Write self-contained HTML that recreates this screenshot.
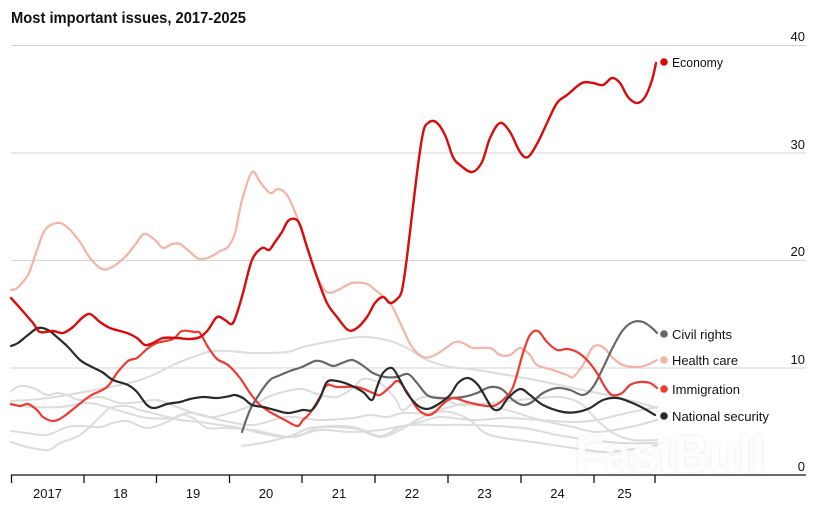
<!DOCTYPE html>
<html>
<head>
<meta charset="utf-8">
<style>
html,body{margin:0;padding:0;background:#fff;}
body{width:818px;height:514px;overflow:hidden;}
svg{display:block;font-family:"Liberation Sans",Arial,sans-serif;}
</style>
</head>
<body>
<svg id="chart" width="818" height="514" viewBox="0 0 818 514" xmlns="http://www.w3.org/2000/svg">
  <defs>
    <filter id="wmblur" x="-10%" y="-30%" width="120%" height="160%">
      <feGaussianBlur stdDeviation="2"/>
    </filter>
  </defs>
  <rect width="818" height="514" fill="#fff"/>
  <!-- title -->
  <text x="11" y="23" font-size="15.5" font-weight="bold" fill="#111" textLength="235" lengthAdjust="spacingAndGlyphs">Most important issues, 2017-2025</text>

  <!-- gridlines -->
  <g stroke="#d4d4d4" stroke-width="1">
    <line x1="11" y1="45.5" x2="806" y2="45.5"/>
    <line x1="11" y1="153" x2="806" y2="153"/>
    <line x1="11" y1="260.5" x2="806" y2="260.5"/>
    <line x1="11" y1="368" x2="806" y2="368"/>
  </g>
  <!-- y labels -->
  <g font-size="13" fill="#111" text-anchor="end">
    <text x="805" y="41">40</text>
    <text x="805" y="149">30</text>
    <text x="805" y="256">20</text>
    <text x="805" y="364">10</text>
    <text x="805" y="471">0</text>
  </g>

  <!-- light grey lines -->
  <g fill="none" stroke="#dcdcdc" stroke-width="2" stroke-linejoin="round" stroke-linecap="round">
    <polyline class="s" points="11,401 40,399 67,395 100,389 133,382 153,375 173,365 193,357 213,351 240,352 253,353 287,352 303,347 327,342 360,337 387,340 407,348 427,360 450,367 470,369 507,375 540,381 573,388 607,395 640,403 657,408"/>
    <polyline class="s" points="11,391 20,386 33,388 47,395 57,393 67,395 80,400 100,397 120,403 140,402 157,400 177,407 200,415 213,417 230,413 240,410 257,403 273,395 300,389 320,395 337,397 353,388 363,379 380,383 395,398 403,410 420,398 440,397 460,405 490,403 540,398 560,397 580,403 597,420 613,433 633,440 657,440"/>
    <polyline class="s" points="11,405 33,407 60,407 87,403 107,407 127,413 147,418 173,418 187,413 203,415 220,420 253,425 287,417 320,420 353,418 370,415 387,417 403,413 427,413 450,407 473,403 507,410 540,420 573,427 597,432 630,427 657,420"/>
    <polyline class="s" points="11,431 27,433 47,435 67,427 80,426 100,427 113,423 127,421 147,428 167,422 180,415 193,418 207,428 227,428 253,430 293,437 320,427 353,427 380,436 400,427 420,422 440,417 473,420 507,418 540,420 573,422 597,420 627,413 657,407"/>
    <polyline class="s" points="11,442 27,447 48,450 60,443 80,435 100,417 110,408 127,406 140,410 160,415 180,420 200,422 220,425 240,428 260,433 290,437 320,430 350,432 380,430 410,425 440,425 473,425 523,428 557,435 590,440 623,443 657,443"/>
    <polyline class="s" points="242,446 267,442 293,435 310,428 333,427 357,429 380,437 400,430 417,420 433,413 450,412 470,420 490,435 540,443 573,448 607,452 640,448 657,445"/>
  </g>

  <!-- health care -->
  <polyline class="s" fill="none" stroke="#f5b3a6" stroke-width="2.2" stroke-linejoin="round" stroke-linecap="round"
    points="11,290 17,288 28,275 37,250 45,230 57,223 67,227 80,242 90,258 102,269 112,267 125,257 135,245 144,234 155,240 163,248 172,244 180,244 190,252 199,259 210,257 220,251 228,247 235,233 242,200 252,172 260,182 270,193 278,189 287,195 297,217 307,247 317,277 327,292 338,290 352,283 367,284 375,290 390,303 402,327 412,347 423,357 433,356 443,350 455,342 463,343 473,348 490,348 500,355 510,355 520,348 530,355 537,365 553,370 567,375 573,377 583,365 593,347 603,347 613,358 623,365 637,367 647,365 657,360"/>

  <!-- civil rights -->
  <polyline class="s" fill="none" stroke="#676767" stroke-width="2.2" stroke-linejoin="round" stroke-linecap="round"
    points="242,432 250,410 260,393 270,380 278,376 290,371 302,367 315,361 323,362 333,366 342,363 352,360 362,365 373,373 385,377 397,377 408,374 417,383 427,395 437,398 450,398 463,397 477,393 487,388 495,387 503,390 513,400 523,405 532,402 543,393 557,388 570,390 583,395 593,387 603,368 613,347 623,330 633,322 643,322 652,328 657,333"/>

  <!-- immigration -->
  <polyline class="s" fill="none" stroke="#ee3a31" stroke-width="2.2" stroke-linejoin="round" stroke-linecap="round"
    points="11,404 20,406 28,404 37,410 43,417 53,421 63,417 77,406 90,396 107,387 117,373 128,361 137,358 147,349 157,343 173,339 182,331 195,332 200,333 208,347 217,359 228,365 240,378 250,393 260,405 270,412 283,419 297,426 303,420 310,413 320,397 327,385 337,387 357,387 373,393 380,395 390,387 398,381 407,392 417,408 427,415 435,412 443,404 453,398 467,402 480,405 493,406 503,400 513,387 523,353 530,335 538,331 547,342 557,350 567,349 577,352 587,360 597,373 605,387 612,395 622,393 630,385 640,382 650,383 657,388"/>

  <!-- national security -->
  <polyline class="s" fill="none" stroke="#2a2a2a" stroke-width="2.2" stroke-linejoin="round" stroke-linecap="round"
    points="11,346 18,343 28,335 38,328 48,330 58,338 68,347 80,360 90,366 102,372 113,380 128,385 137,392 147,405 155,408 167,404 180,402 190,399 203,397 217,398 230,396 235,395 243,398 252,405 263,407 275,410 288,413 303,410 312,410 320,398 327,382 337,381 350,385 363,392 372,400 377,387 383,373 392,368 400,380 407,393 417,405 427,409 437,405 450,395 458,383 468,378 478,385 487,400 493,409 500,409 508,398 520,389 530,395 543,405 563,412 577,412 590,408 603,400 617,398 630,402 643,408 655,415"/>

  <!-- economy -->
  <polyline class="s" fill="none" stroke="#d90b0b" stroke-width="2.4" stroke-linejoin="round" stroke-linecap="round"
    points="11,298 20,308 33,323 40,332 53,331 63,333 73,327 82,318 90,314 100,322 110,328 127,333 137,338 145,345 153,343 163,338 177,338 190,339 200,337 208,330 217,317 225,320 232,324 237,313 243,293 252,260 262,248 269,250 275,242 282,232 288,221 295,219 300,225 307,247 317,277 327,303 337,317 348,330 357,328 367,317 375,303 383,297 390,303 397,299 402,290 407,257 417,173 423,133 428,123 436,122 445,135 453,157 460,165 472,172 482,162 490,138 500,123 510,132 520,152 528,157 538,142 547,123 557,103 567,95 582,83 593,83 603,85 612,78 620,83 628,97 637,103 645,97 652,80 656,63"/>

  <!-- watermark -->
  <text x="575" y="472" font-size="52" font-weight="bold" fill="#bdbdbd" fill-opacity="0.35" filter="url(#wmblur)" textLength="190" lengthAdjust="spacingAndGlyphs">FastBull</text>
  <text x="575" y="472" font-size="52" font-weight="bold" fill="#ffffff" fill-opacity="0.88" textLength="190" lengthAdjust="spacingAndGlyphs">FastBull</text>

  <!-- x axis -->
  <line x1="11" y1="475" x2="806" y2="475" stroke="#111" stroke-width="1.3"/>
  <g stroke="#111" stroke-width="1.3">
    <line x1="11.5" y1="475" x2="11.5" y2="483"/>
    <line x1="84" y1="475" x2="84" y2="483"/>
    <line x1="156.5" y1="475" x2="156.5" y2="483"/>
    <line x1="229.5" y1="475" x2="229.5" y2="483"/>
    <line x1="302" y1="475" x2="302" y2="483"/>
    <line x1="375" y1="475" x2="375" y2="483"/>
    <line x1="448" y1="475" x2="448" y2="483"/>
    <line x1="521" y1="475" x2="521" y2="483"/>
    <line x1="594" y1="475" x2="594" y2="483"/>
    <line x1="655" y1="475" x2="655" y2="483"/>
  </g>
  <g font-size="13" fill="#111" text-anchor="middle">
    <text x="47.5" y="498">2017</text>
    <text x="120.5" y="498">18</text>
    <text x="193" y="498">19</text>
    <text x="266" y="498">20</text>
    <text x="339" y="498">21</text>
    <text x="412" y="498">22</text>
    <text x="484.5" y="498">23</text>
    <text x="557.5" y="498">24</text>
    <text x="624.5" y="498">25</text>
  </g>

  <!-- legend -->
  <circle cx="664" cy="62" r="3.8" fill="#d90b0b"/>
  <circle cx="664" cy="334" r="3.8" fill="#676767"/>
  <circle cx="664" cy="360" r="3.8" fill="#f5b3a6"/>
  <circle cx="664" cy="389" r="3.8" fill="#ee3a31"/>
  <circle cx="664" cy="416" r="3.8" fill="#2a2a2a"/>
  <g font-size="13" fill="#111">
    <text x="672" y="67" textLength="51" lengthAdjust="spacingAndGlyphs">Economy</text>
    <text x="672" y="339" textLength="60" lengthAdjust="spacingAndGlyphs">Civil rights</text>
    <text x="672" y="365" textLength="66" lengthAdjust="spacingAndGlyphs">Health care</text>
    <text x="672" y="394" textLength="68" lengthAdjust="spacingAndGlyphs">Immigration</text>
    <text x="672" y="421" textLength="97" lengthAdjust="spacingAndGlyphs">National security</text>
  </g>
</svg>
<script>
(function(){
  var NS="http://www.w3.org/2000/svg";
  var pls=document.querySelectorAll("polyline.s");
  for(var k=0;k<pls.length;k++){
    var pl=pls[k];
    var raw=pl.getAttribute("points").trim().split(/\s+/);
    var p=[];
    for(var i=0;i<raw.length;i++){var xy=raw[i].split(",");p.push([+xy[0],+xy[1]]);}
    if(p.length<3)continue;
    var d="M"+p[0][0]+","+p[0][1];
    for(var i=0;i<p.length-1;i++){
      var p0=p[i>0?i-1:0],p1=p[i],p2=p[i+1],p3=p[i+2<p.length?i+2:p.length-1];
      var c1x=p1[0]+(p2[0]-p0[0])/6,c1y=p1[1]+(p2[1]-p0[1])/6;
      var c2x=p2[0]-(p3[0]-p1[0])/6,c2y=p2[1]-(p3[1]-p1[1])/6;
      d+=" C"+c1x.toFixed(2)+","+c1y.toFixed(2)+" "+c2x.toFixed(2)+","+c2y.toFixed(2)+" "+p2[0]+","+p2[1];
    }
    var path=document.createElementNS(NS,"path");
    for(var a=0;a<pl.attributes.length;a++){
      var at=pl.attributes[a];
      if(at.name!=="points"&&at.name!=="class")path.setAttribute(at.name,at.value);
    }
    path.setAttribute("d",d);
    pl.parentNode.replaceChild(path,pl);
  }
})();
</script>
</body>
</html>
